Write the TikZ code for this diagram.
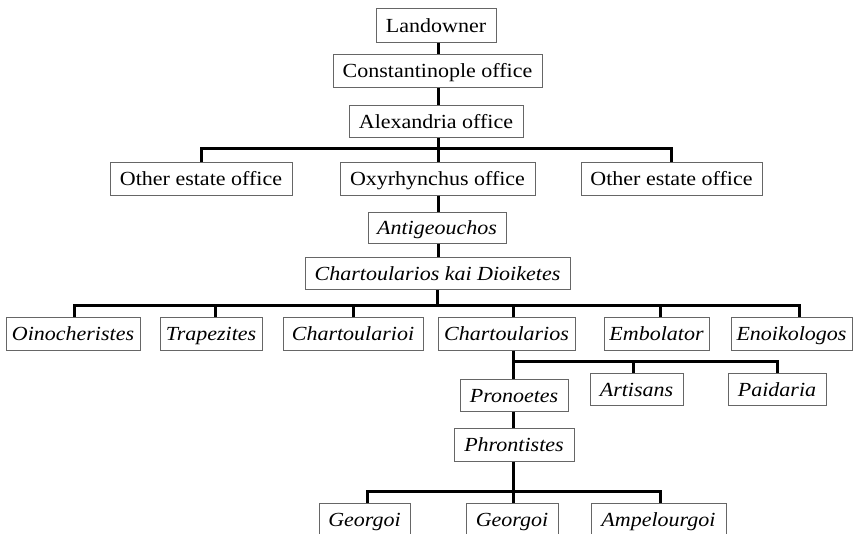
\documentclass[tikz,border=0pt]{standalone}
\usepackage{fontspec}
\setmainfont[FakeStretch=1.1]{Liberation Serif}
\begin{document}
\begin{tikzpicture}[x=1pt,y=-1pt,
  box/.style={draw=black!60, line width=1pt, rectangle, inner sep=0pt,
    font=\fontsize{20}{22}\selectfont, text height=18pt, text depth=4pt, fill=white},
  ibox/.style={box, font=\fontsize{20}{22}\selectfont\itshape},
  conn/.style={line width=3pt, black, line join=miter}]
\useasboundingbox (0,0) rectangle (858,533);
\clip (0,0) rectangle (858,533);

\coordinate (b1) at (438,148);
\coordinate (b2) at (437,305);
\coordinate (b3) at (513,361);
\coordinate (b4) at (513,491);

% boxes
\node[box, minimum width=120pt, minimum height=34pt] (land) at (436,25) {Landowner};
\node[box, minimum width=209pt, minimum height=33pt] (const) at (437.5,70.5) {Constantinople office};
\node[box, minimum width=174pt, minimum height=32pt] (alex) at (436,121) {Alexandria office};
\node[box, minimum width=182pt, minimum height=33pt] (oeo1) at (201,178.5) {Other estate office};
\node[box, minimum width=195pt, minimum height=33pt] (oxy) at (437.5,178.5) {Oxyrhynchus office};
\node[box, minimum width=181pt, minimum height=33pt] (oeo2) at (671.5,178.5) {Other estate office};
\node[ibox, minimum width=138pt, minimum height=31pt] (anti) at (437,227.5) {Antigeouchos};
\node[ibox, minimum width=265pt, minimum height=32pt] (ckd) at (437.5,273.5) {Chartoularios kai Dioiketes};
\node[ibox, minimum width=134pt, minimum height=33pt] (oino) at (73,333.5) {Oinocheristes};
\node[ibox, minimum width=102pt, minimum height=33pt] (trap) at (211,333.5) {Trapezites};
\node[ibox, minimum width=140pt, minimum height=33pt] (chi) at (353,333.5) {Chartoularioi};
\node[ibox, minimum width=137pt, minimum height=33pt] (chs) at (506.5,333.5) {Chartoularios};
\node[ibox, minimum width=105pt, minimum height=33pt] (emb) at (656.5,333.5) {Embolator};
\node[ibox, minimum width=121pt, minimum height=33pt] (eno) at (791.5,333.5) {Enoikologos};
\node[ibox, minimum width=108pt, minimum height=32pt] (pron) at (514,395) {Pronoetes};
\node[ibox, minimum width=93pt, minimum height=32pt] (art) at (636.5,389) {Artisans};
\node[ibox, minimum width=98pt, minimum height=32pt] (paid) at (777,389) {Paidaria};
\node[ibox, minimum width=120pt, minimum height=33pt] (phr) at (514,444.5) {Phrontistes};
\node[ibox, minimum width=91pt, minimum height=33pt] (geo1) at (364.5,519.5) {Georgoi};
\node[ibox, minimum width=92pt, minimum height=33pt] (geo2) at (512,519.5) {Georgoi};
\node[ibox, minimum width=135pt, minimum height=33pt] (amp) at (658.5,519.5) {Ampelourgoi};

% connectors
\draw[conn] (land.south -| b1) -- (const.north -| b1);
\draw[conn] (const.south -| b1) -- (alex.north -| b1);
\draw[conn] (alex.south -| b1) -- (b1);
\draw[conn] (oeo1.north) |- (b1) -| (oeo2.north);
\draw[conn] (b1) -- (oxy.north -| b1);
\draw[conn] (oxy.south -| b1) -- (anti.north -| b1);
\draw[conn] (anti.south -| b1) -- (ckd.north -| b1);
\draw[conn] (ckd.south -| b2) -- (b2);
\draw[conn] ([xshift=1pt]oino.north) |- (b2) -| ([xshift=7.5pt]eno.north);
\draw[conn] ([xshift=4pt]trap.north |- b2) -- ([xshift=4pt]trap.north);
\draw[conn] (chi.north |- b2) -- (chi.north);
\draw[conn] ([xshift=6.5pt]chs.north |- b2) -- ([xshift=6.5pt]chs.north);
\draw[conn] ([xshift=3.5pt]emb.north |- b2) -- ([xshift=3.5pt]emb.north);
\draw[conn] (chs.south -| b3) -- (b3) -| (paid.north);
\draw[conn] (b3) -- (pron.north -| b3);
\draw[conn] ([xshift=-3.5pt]art.north |- b3) -- ([xshift=-3.5pt]art.north);
\draw[conn] (pron.south -| b3) -- (phr.north -| b3);
\draw[conn] (phr.south -| b4) -- (b4);
\draw[conn] ([xshift=2.5pt]geo1.north) |- (b4) -| ([xshift=1.5pt]amp.north);
\draw[conn] (b4) -- (geo2.north -| b4);
\end{tikzpicture}
\end{document}
